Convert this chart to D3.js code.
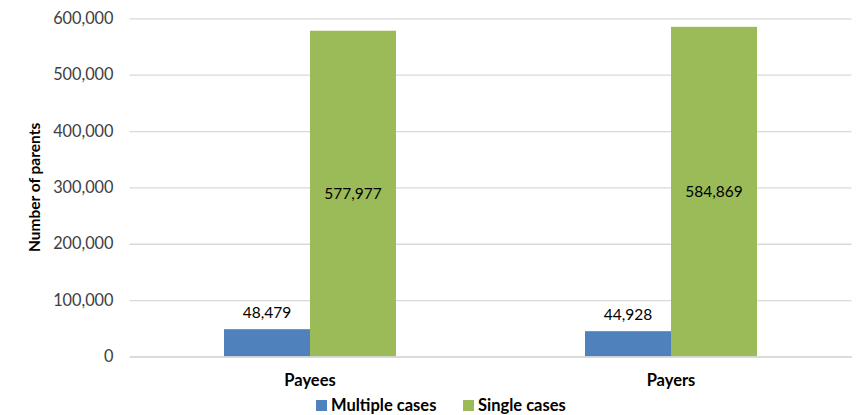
<!DOCTYPE html>
<html><head><meta charset="utf-8">
<script src="https://cdn.jsdelivr.net/npm/d3@7"></script>
<style>body{margin:0;background:#fff}svg{display:block}text{font-family:Lato,"Noto Sans",sans-serif}</style>
</head><body><svg id="c" width="865" height="415"></svg>
<script>
const categories = ["Payees", "Payers"];
const seriesNames = ["Multiple cases", "Single cases"];
const multipleCases = [48479, 44928];
const singleCases = [577977, 584869];
const yTicks = [0, 100000, 200000, 300000, 400000, 500000, 600000];
const colors = ["#4F81BD", "#9BBB59"];

(function () {
const svg = d3.select("#c");
const mLeft = 129.5, mRight = 851.5, mTop = 18.3, mBottom = 356.5;
const x = d3.scaleBand().domain(categories).range([mLeft, mRight]).paddingInner(0).paddingOuter(0);
const inner = d3.scaleBand().domain(seriesNames).range([0, 172]).padding(0);
const y = d3.scaleLinear().domain([0, 600000]).range([mBottom, mTop]);
const fmt = d3.format(",");

const yAxis = d3.axisLeft(y).tickValues(yTicks).tickFormat(fmt).tickSize(-(mRight - mLeft)).tickPadding(16);
const gy = svg.append("g").attr("transform", `translate(${mLeft},0)`).call(yAxis);
gy.select(".domain").remove();
gy.selectAll(".tick line").attr("stroke", "#d9d9d9").attr("stroke-width", 1.3);
gy.selectAll(".tick text").attr("font-size", 16.3).attr("fill", "#404040").attr("font-family", "Lato");

const data = categories.map((c, i) => ({c, vals: [multipleCases[i], singleCases[i]]}));
const groups = svg.append("g").selectAll("g").data(data).join("g")
  .attr("transform", d => `translate(${x(d.c) + (x.bandwidth() - 172) / 2},0)`);
groups.selectAll("rect").data(d => d.vals.map((v, j) => ({v, s: seriesNames[j], j})))
  .join("rect")
  .attr("x", d => inner(d.s)).attr("width", inner.bandwidth())
  .attr("y", d => y(d.v)).attr("height", d => y(0) - y(d.v))
  .attr("fill", d => colors[d.j]);
groups.selectAll("text.lbl").data(d => d.vals.map((v, j) => ({v, s: seriesNames[j], j})))
  .join("text").attr("class", "lbl")
  .attr("x", d => inner(d.s) + inner.bandwidth() / 2)
  .attr("y", d => d.j === 0 ? y(d.v) - 11 : (y(d.v) + y(0)) / 2 + 5.5)
  .attr("text-anchor", "middle").attr("font-size", 15.5).attr("fill", "#000")
  .text(d => fmt(d.v));

const gx = svg.append("g").attr("transform", `translate(0,${mBottom})`)
  .call(d3.axisBottom(x).tickSize(0).tickPadding(18));
gx.select(".domain").attr("stroke", "#d9d9d9").attr("stroke-width", 1.3);
gx.selectAll(".tick text").attr("font-size", 16.5).attr("font-weight", "bold").attr("fill", "#000").attr("font-family", "Lato");

svg.append("text").attr("transform", `translate(40,${(mTop + mBottom) / 2}) rotate(-90)`)
  .attr("text-anchor", "middle").attr("font-size", 15.5).attr("font-weight", "bold").text("Number of parents");

const leg = svg.append("g");
const legX = [316, 463];
seriesNames.forEach((s, i) => {
  leg.append("rect").attr("x", legX[i]).attr("y", 400).attr("width", 11).attr("height", 11).attr("fill", colors[i]);
  leg.append("text").attr("x", legX[i] + 15).attr("y", 411).attr("font-size", 16.5).attr("font-weight", "bold").text(s);
});
})();
</script></body></html>
